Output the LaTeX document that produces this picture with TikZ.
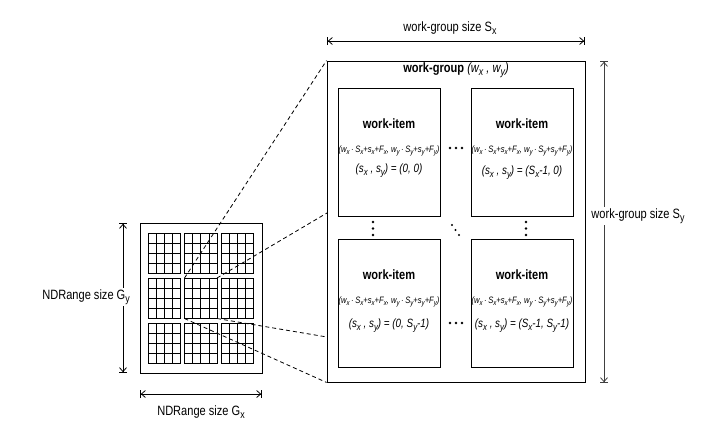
\documentclass[tikz,border=0pt]{standalone}
\usepackage{fontspec}
\setmainfont{Liberation Sans}[FakeStretch=0.82]
\usetikzlibrary{arrows.meta}
\newcommand\lw[1]{\raisebox{-0.45ex}{\scalebox{0.8}{#1}}}
\begin{document}
\begin{tikzpicture}[x=1pt,y=-1pt,
  wbox/.style={draw,line width=0.9pt,minimum width=102pt,minimum height=128pt,inner sep=0pt},
  lbl/.style={font=\fontsize{13.5}{16}\selectfont,inner sep=1pt},
  ttl/.style={font=\fontsize{13.5}{16}\selectfont\bfseries,inner sep=0pt},
  frm/.style={font=\fontsize{9.3}{11}\selectfont\itshape,inner sep=0pt},
  crd/.style={font=\fontsize{12}{14}\selectfont\itshape,inner sep=0pt},
  dimline/.style={arrows={Bar[width=8pt]Straight Barb[length=4pt,width=7pt]}-{Straight Barb[length=4pt,width=7pt]Bar[width=8pt]},line width=0.8pt},
  dsh/.style={dashed,dash pattern=on 4pt off 3pt,line width=0.8pt},
  gridln/.style={line width=0.75pt}]
\useasboundingbox (0,0) rectangle (706,437);

% ---------- small NDRange grid ----------
\node[draw,line width=0.9pt,minimum width=122pt,minimum height=150pt,inner sep=0pt] (nd) at (201,298) {};
\foreach \bx in {148,184.5,221}{
  \foreach \by in {233,278,323}{
    \foreach \i in {0,1,2,3,4}{
      \draw[gridln] ({\bx+\i*8.125},\by) -- ({\bx+\i*8.125},{\by+40.5});
      \draw[gridln] (\bx,{\by+\i*10.125}) -- ({\bx+32.5},{\by+\i*10.125});
    }
  }
}
\coordinate (mTL) at (184.5,278);
\coordinate (mTR) at (217,278);
\coordinate (mBR) at (217,318.5);
\coordinate (mBL) at (184.5,318.5);

% ---------- big work-group box ----------
\node[draw,line width=0.9pt,minimum width=258pt,minimum height=321pt,inner sep=0pt] (wg) at (456,221.5) {};
\coordinate (e1) at (327,213);
\coordinate (e2) at (327,337);
\node[ttl] (wgt) at (456,70) {work-group \mdseries\itshape(w\lw{x} , w\lw{y})};

% dashed zoom lines
\draw[dsh] (mTL) -- (wg.north west);
\draw[dsh] (mTR) -- (e1);
\draw[dsh] (mBR) -- (e2);
\draw[dsh] (mBL) -- (wg.south west);

% ---------- work-items ----------
\node[wbox] (b1) at (389,152.5) {};
\node[wbox] (b2) at (522,152.5) {};
\node[wbox] (b3) at (389,303.5) {};
\node[wbox] (b4) at (522,303.5) {};

\foreach \b in {b1,b2,b3,b4}{
  \node[ttl] at ([yshift=-36pt]\b.north) {work-item};
  \node[frm] at ([yshift=-63pt]\b.north) {(w\lw{x}\,·\,S\lw{x}+s\lw{x}+F\lw{x}, w\lw{y}\,·\,S\lw{y}+s\lw{y}+F\lw{y})};
}
\node[crd] at ([yshift=-83pt]b1.north) {(s\lw{x} , s\lw{y}) = (0, 0)};
\node[crd] at ([yshift=-85pt]b2.north) {(s\lw{x} , s\lw{y}) = (S\lw{x}-1, 0)};
\node[crd] at ([yshift=-87pt]b3.north) {(s\lw{x} , s\lw{y}) = (0, S\lw{y}-1)};
\node[crd] at ([yshift=-87pt]b4.north) {(s\lw{x} , s\lw{y}) = (S\lw{x}-1, S\lw{y}-1)};

% dots
\foreach \x in {450,456,462}{
  \fill (\x,148) circle[radius=1.4pt];
  \fill (\x,323) circle[radius=1.4pt];
}
\foreach \y in {222,228.5,235}{
  \fill (373,\y) circle[radius=1.4pt];
  \fill (526,\y) circle[radius=1.4pt];
}
\fill (452,225) circle[radius=1.1pt];
\fill (455.5,230) circle[radius=1.1pt];
\fill (459,235) circle[radius=1.1pt];

% ---------- dimension arrows ----------
\coordinate (tA) at (327,41);
\coordinate (tB) at (585,41);
\draw[dimline] (tA) -- (tB);
\node[lbl] (tl) at (450,28) {work-group size S\lw{x}};

\coordinate (rA) at (604,61);
\coordinate (rB) at (604,383);
\draw[dimline,draw=black!75] (rA) -- (rB);
\node[lbl,fill=white] (rl) at (638,216) {work-group size S\lw{y}};

\coordinate (lA) at (123,223);
\coordinate (lB) at (123,373);
\draw[dimline] (lA) -- (lB);
\node[lbl,fill=white,anchor=east] (ll) at (131,297) {NDRange size G\lw{y}};

\coordinate (bA) at (140,394);
\coordinate (bB) at (262,394);
\draw[dimline] (bA) -- (bB);
\node[lbl] (bl) at (201,412) {NDRange size G\lw{x}};
\end{tikzpicture}
\end{document}
